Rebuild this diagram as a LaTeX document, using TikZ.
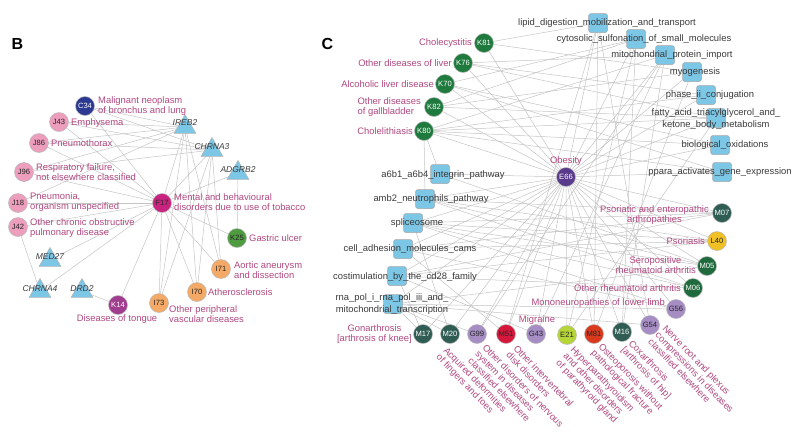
\documentclass[tikz,border=0pt]{standalone}
\usepackage{fontspec}
\setmainfont{Liberation Sans}
\usetikzlibrary{shapes.geometric}
\pgfdeclarelayer{bg}
\pgfsetlayers{bg,main}
\definecolor{lab}{HTML}{B0477F}
\definecolor{txt}{HTML}{3A3A3A}
\definecolor{edgec}{HTML}{C4C4C4}
\definecolor{tri}{HTML}{7CC6E6}
\definecolor{cblue}{HTML}{2B3990}
\definecolor{cpink}{HTML}{EE9EBD}
\definecolor{cmag}{HTML}{C8237F}
\definecolor{cpur}{HTML}{A13D8E}
\definecolor{cgreen}{HTML}{4E9B40}
\definecolor{corange}{HTML}{F4AA66}
\definecolor{kgreen}{HTML}{1F7A3D}
\definecolor{mgreen}{HTML}{206B3E}
\definecolor{slate}{HTML}{2F5D54}
\definecolor{obes}{HTML}{5A3A8A}
\definecolor{yell}{HTML}{F0C024}
\definecolor{lav}{HTML}{A68DC4}
\definecolor{crim}{HTML}{D5173B}
\definecolor{redor}{HTML}{D93A1E}
\definecolor{lime}{HTML}{B6D537}
\begin{document}
\begin{tikzpicture}[x=1pt,y=-1pt,
  dis/.style={circle,draw=gray!55,line width=0.5pt,minimum size=19pt,inner sep=0pt,font=\fontsize{7.6}{8}\selectfont},
  dk/.style={text=white},
  lt/.style={text=black!85},
  gene/.style={regular polygon,regular polygon sides=3,draw=gray!60,line width=0.5pt,fill=tri,minimum size=25pt,inner sep=0pt},
  gl/.style={text=txt,font=\fontsize{8.5}{9}\selectfont\itshape,inner sep=0pt},
  pbox/.style={rectangle,rounded corners=2.5pt,draw=gray!70,line width=0.5pt,fill=tri,minimum size=19pt,inner sep=0pt},
  pl/.style={text=txt,font=\fontsize{9.4}{11.5}\selectfont,inner sep=0pt,align=center},
  lbl/.style={text=lab,font=\fontsize{9.4}{10}\selectfont,inner sep=0pt},
  rl/.style={lbl,anchor=north west,rotate=-46,align=left},
  panel/.style={font=\fontsize{16}{16}\selectfont\bfseries,text=black,inner sep=0pt},
  edge/.style={draw=edgec,line width=0.5pt}
]
\useasboundingbox (0,0) rectangle (798,432);
\node[panel] (pB) at (17.5,44) {B};
\node[panel] (pC) at (327.5,44) {C};

% ---------------- Panel B ----------------
\node[dis,fill=cblue,dk] (C34) at (85,106) {C34};
\node[dis,fill=cpink,lt] (J43) at (59,122) {J43};
\node[dis,fill=cpink,lt] (J86) at (39,143) {J86};
\node[dis,fill=cpink,lt] (J96) at (24,172) {J96};
\node[dis,fill=cpink,lt] (J18) at (18,203) {J18};
\node[dis,fill=cpink,lt] (J42) at (18,227) {J42};
\node[dis,fill=cmag,lt] (F17) at (162,203) {F17};
\node[dis,fill=cgreen,lt] (K25) at (237,238) {K25};
\node[dis,fill=corange,lt] (I71) at (221,269) {I71};
\node[dis,fill=corange,lt] (I70) at (197,292) {I70};
\node[dis,fill=corange,lt] (I73) at (159,303) {I73};
\node[dis,fill=cpur,dk] (K14) at (118,305) {K14};

\node[gene] (IREB2) at (185,127) {};
\node[gene] (CHRNA3) at (212,150) {};
\node[gene] (ADGRB2) at (238,173) {};
\node[gene] (MED27) at (50,260) {};
\node[gene] (CHRNA4) at (40,291) {};
\node[gene] (DRD2) at (82,291) {};
\node[gl] (lIREB2) at (185,123) {IREB2};
\node[gl] (lCHRNA3) at (212,147) {CHRNA3};
\node[gl] (lADGRB2) at (238,170) {ADGRB2};
\node[gl] (lMED27) at (50,257) {MED27};
\node[gl] (lCHRNA4) at (40,289) {CHRNA4};
\node[gl] (lDRD2) at (82,289) {DRD2};

\node[lbl,anchor=west,align=left] (lC34) at (98,106) {Malignant neoplasm\\of bronchus and lung};
\node[lbl,anchor=west] (lJ43) at (71,123) {Emphysema};
\node[lbl,anchor=west] (lJ86) at (51,143) {Pneumothorax};
\node[lbl,anchor=west,align=left] (lJ96) at (36,172) {Respiratory failure,\\not elsewhere classified};
\node[lbl,anchor=west,align=left] (lJ18) at (30,202) {Pneumonia,\\organism unspecified};
\node[lbl,anchor=west,align=left] (lJ42) at (30,228) {Other chronic obstructive\\pulmonary disease};
\node[lbl,anchor=west,align=left] (lF17) at (174,202) {Mental and behavioural\\disorders due to use of tobacco};
\node[lbl,anchor=west] (lK25) at (249,238) {Gastric ulcer};
\node[lbl,anchor=west,align=left] (lI71) at (234,270) {Aortic aneurysm\\and dissection};
\node[lbl,anchor=west] (lI70) at (208,292) {Atherosclerosis};
\node[lbl,anchor=west,align=left] (lI73) at (169,314) {Other peripheral\\vascular diseases};
\node[lbl] (lK14) at (117,319) {Diseases of tongue};

\begin{pgfonlayer}{bg}
\foreach \n in {C34,J43,J86,J96,J18,F17,I73,I70,I71}
  \draw[edge] (IREB2) -- (\n);
\foreach \n in {C34,J43,J86,J96,F17,I73,I70,I71}
  \draw[edge] (CHRNA3) -- (\n);
\foreach \n in {K25,F17}
  \draw[edge] (ADGRB2) -- (\n);
\foreach \n in {C34,J43,J86,J96,J18,J42,K14,I73,I70,I71,K25,MED27,CHRNA4}
  \draw[edge] (F17) -- (\n);
\draw[edge] (J42) -- (CHRNA4);
\draw[edge] (DRD2) -- (K14);
\end{pgfonlayer}

% ---------------- Panel C ----------------
\node[dis,fill=kgreen,dk] (K81) at (484,43) {K81};
\node[dis,fill=kgreen,dk] (K76) at (463,63) {K76};
\node[dis,fill=kgreen,dk] (K70) at (445,84) {K70};
\node[dis,fill=kgreen,dk] (K82) at (434,107) {K82};
\node[dis,fill=kgreen,dk] (K80) at (424,131) {K80};
\node[dis,fill=obes,dk] (E66) at (566,177) {E66};
\node[dis,fill=slate,dk] (M07) at (722,213) {M07};
\node[dis,fill=yell,lt] (L40) at (717,241) {L40};
\node[dis,fill=mgreen,dk] (M05) at (707,266) {M05};
\node[dis,fill=mgreen,dk] (M06) at (693,288) {M06};
\node[dis,fill=lav,lt] (G56) at (676,309) {G56};
\node[dis,fill=lav,lt] (G54) at (650,325) {G54};
\node[dis,fill=slate,dk] (M16) at (622,332) {M16};
\node[dis,fill=redor,lt] (M81) at (594,334) {M81};
\node[dis,fill=lime,lt] (E21) at (567,335) {E21};
\node[dis,fill=lav,lt] (G43) at (536,334) {G43};
\node[dis,fill=crim,lt] (M51) at (506,334) {M51};
\node[dis,fill=lav,lt] (G99) at (477,334) {G99};
\node[dis,fill=slate,dk] (M20) at (450,334) {M20};
\node[dis,fill=slate,dk] (M17) at (423,334) {M17};

\node[pbox] (pLipid) at (598,23) {};
\node[pbox] (pCyto) at (636,39) {};
\node[pbox] (pMito) at (665,55) {};
\node[pbox] (pMyo) at (692,72) {};
\node[pbox] (pPhase) at (706,95) {};
\node[pbox] (pFatty) at (716,118) {};
\node[pbox] (pBio) at (720,145) {};
\node[pbox] (pPpara) at (722,172) {};
\node[pbox] (pA6b1) at (440,174) {};
\node[pbox] (pAmb2) at (425,199) {};
\node[pbox] (pSplice) at (413,223) {};
\node[pbox] (pCell) at (403,249) {};
\node[pbox] (pCostim) at (397,276) {};
\node[pbox] (pRna) at (393,304) {};

\node[pl] (lLipid) at (607,23) {lipid\_digestion\_mobilization\_and\_transport};
\node[pl] (lCyto) at (644,39) {cytosolic\_sulfonation\_of\_small\_molecules};
\node[pl] (lMito) at (672,55) {mitochondrial\_protein\_import};
\node[pl] (lMyo) at (695,72) {myogenesis};
\node[pl] (lPhase) at (710,95) {phase\_ii\_conjugation};
\node[pl] (lFatty) at (716,119) {fatty\_acid\_triacylglycerol\_and\_\\ketone\_body\_metabolism};
\node[pl] (lBio) at (725,145) {biological\_oxidations};
\node[pl] (lPpara) at (720,172) {ppara\_activates\_gene\_expression};
\node[pl] (lA6b1) at (443,175) {a6b1\_a6b4\_integrin\_pathway};
\node[pl] (lAmb2) at (431,199) {amb2\_neutrophils\_pathway};
\node[pl] (lSplice) at (417,223) {spliceosome};
\node[pl] (lCell) at (410,249) {cell\_adhesion\_molecules\_cams};
\node[pl] (lCostim) at (405,277) {costimulation\_by\_the\_cd28\_family};
\node[pl] (lRna) at (392,304) {rna\_pol\_i\_rna\_pol\_iii\_and\_\\mitochondrial\_transcription};

\node[lbl,anchor=east] (lK81) at (472,43) {Cholecystitis};
\node[lbl,anchor=east] (lK76) at (452,63) {Other diseases of liver};
\node[lbl,anchor=east] (lK70) at (434,84) {Alcoholic liver disease};
\node[lbl,anchor=east,align=left] (lK82) at (421,107) {Other diseases\\of gallbladder};
\node[lbl,anchor=east] (lK80) at (413,131) {Cholelithiasis};
\node[lbl] (lE66) at (566,161) {Obesity};
\node[lbl,anchor=east,align=center] (lM07) at (709,215) {Psoriatic and enteropathic\\arthropathies};
\node[lbl,anchor=east] (lL40) at (705,241) {Psoriasis};
\node[lbl,anchor=east,align=center] (lM05) at (696,265) {Seropositive\\rheumatoid arthritis};
\node[lbl,anchor=east] (lM06) at (681,288) {Other rheumatoid arthritis};
\node[lbl,anchor=east] (lG56) at (665,303) {Mononeuropathies of lower limb};
\node[lbl] (lG43) at (537,320) {Migraine};
\node[lbl,anchor=east,align=center] (lM17) at (412,334) {Gonarthrosis\\{[arthrosis of knee]}};
\node[rl] (lM20) at (448,346) {Acquired deformities\\of fingers and toes};
\node[rl] (lG99) at (487,343) {Other disorders of nervous\\system in diseases\\classified elsewhere};
\node[rl] (lM51) at (518,344) {Other intervertebral\\disk disorders};
\node[rl] (lE21) at (575,345) {Hyperparathyroidism\\and other disorders\\of parathyroid gland};
\node[rl] (lM81) at (603,342) {Osteoporosis without\\pathological fracture};
\node[rl] (lM16) at (633,339) {Coxarthrosis\\{[arthrosis of hip]}};
\node[rl] (lG54) at (667,324) {Nerve root and plexus\\compressions in diseases\\classified elsewhere};

\begin{pgfonlayer}{bg}
\foreach \n in {K81,K76,K70,K82,K80,M07,L40,M05,M06,G56,G54,M16,M81,E21,G43,M51,G99,M20,M17,
  pLipid,pCyto,pMito,pMyo,pPhase,pFatty,pBio,pPpara,pA6b1,pAmb2,pSplice,pCell,pCostim,pRna}
  \draw[edge] (E66) -- (\n);
\foreach \a/\b in {K81/pLipid,K81/pMyo,K76/pMito,K76/pPhase,K76/pFatty,K70/pCyto,K70/pBio,K70/pPpara,
  K82/pMyo,K82/pFatty,K82/pCyto,K80/pA6b1,K80/pAmb2,K80/pPhase,K80/pBio,K80/pPpara,K80/pMito,K80/pFatty,
  M07/pCell,M07/pCostim,M07/pSplice,M07/pAmb2,L40/pAmb2,L40/pCell,L40/pCostim,L40/pSplice,
  M05/pSplice,M05/pA6b1,M05/pRna,M05/pAmb2,
  M06/pCostim,M06/pAmb2,M06/pSplice,G56/pRna,G56/pCell,G56/pSplice,G54/pLipid,G54/pRna,M16/pCyto,M16/pMito,
  M81/pMyo,M81/pLipid,E21/pCyto,E21/pFatty,G43/pMito,G43/pCostim,M51/pLipid,M51/pCell,
  G99/pRna,G99/pMito,M20/pRna,M20/pSplice,M17/pRna,M17/pCostim}
  \draw[edge] (\a) -- (\b);
\end{pgfonlayer}
\end{tikzpicture}
\end{document}
